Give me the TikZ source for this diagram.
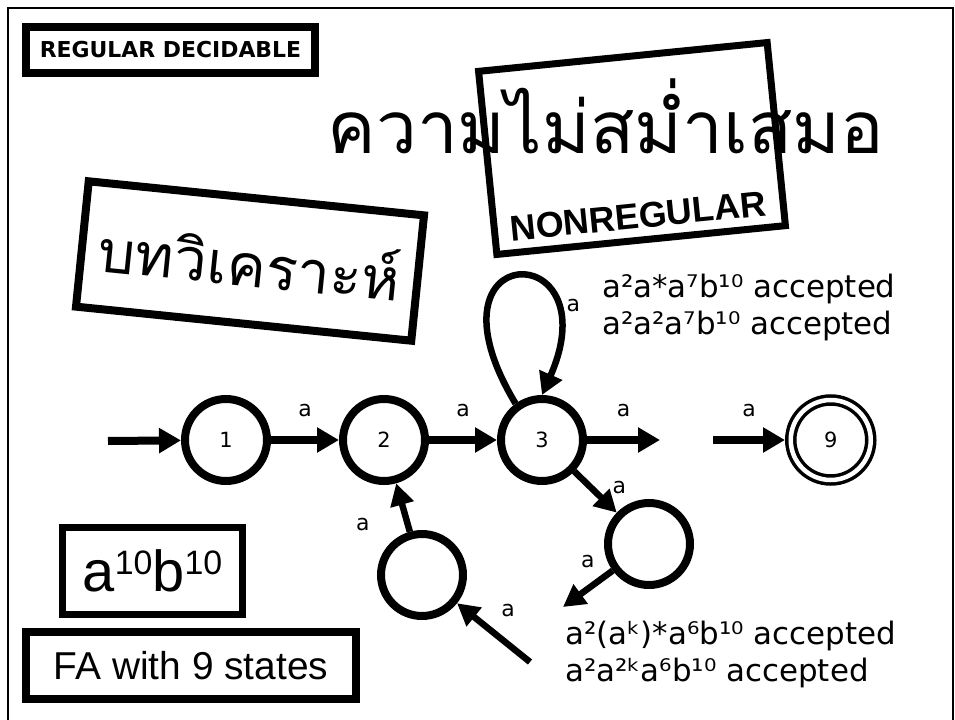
\documentclass[tikz,border=0pt]{standalone}
\usepackage{fontspec}
\setmainfont{DejaVu Sans}
\newfontfamily\thaifont[Script=Thai]{Loma}
\newfontfamily\arialfont{Liberation Sans}
\usetikzlibrary{positioning,arrows.meta}
\newcommand{\supnum}[1]{\raisebox{17bp}{\fontsize{34}{36}\selectfont #1}}
\tikzset{
  state/.style={circle, draw, line width=8bp, minimum size=82bp, inner sep=0pt,
    font=\fontsize{21}{24}\selectfont},
  accstate/.style={circle, draw, line width=3.5bp, double, double distance=4.5bp,
    minimum size=80bp, inner sep=0pt, outer sep=5.75bp, font=\fontsize{21}{24}\selectfont},
  labelbox/.style={rectangle, draw, line width=8bp, inner sep=0pt, align=center},
  lbl/.style={inner sep=0pt, font=\fontsize{22}{24}\selectfont},
  acctext/.style={inner sep=0pt, align=left, font=\fontsize{31}{37}\selectfont},
  arr/.style={-{Triangle[length=22bp,width=24bp]}, line width=8bp},
  sarr/.style={-{Triangle[length=22bp,width=23bp]}, line width=6.5bp},
}
\begin{document}
\begin{tikzpicture}[x=1bp, y=-1bp]
  \useasboundingbox (0,0) rectangle (955,720);
  % frame
  \draw[line width=2bp] (8,722) -- (8,8) -- (953,8) -- (953,722);

  % titles
  \node[labelbox, minimum width=289bp, minimum height=46bp,
    font=\bfseries\fontsize{22}{24}\selectfont] (regbox) at (170.5,50) {REGULAR DECIDABLE};
  \node[inner sep=0pt, anchor=base, font=\thaifont\fontsize{73}{80}\selectfont]
    (title) at (606,154) {ความไม่สม่ำเสมอ};
  \node[labelbox, line width=7bp, rotate=5.7, minimum width=290bp, minimum height=184bp]
    (nrbox) at (632,148.5) {};
  \node[inner sep=0pt, rotate=5.7, font=\arialfont\bfseries\fontsize{36}{40}\selectfont]
    (nrlbl) at (638,216) {NONREGULAR};
  \node[labelbox, rotate=-5.8, minimum width=337bp, minimum height=126bp,
    font=\thaifont\fontsize{59}{66}\selectfont] (anbox) at (250,261) {บทวิเคราะห์};

  % states
  \node[state] (s1) at (226,440) {1};
  \node[state, right=68bp of s1] (s2) {2};
  \node[state, right=68bp of s2] (s3) {3};
  \node[accstate, right=198bp of s3] (s9) {9};
  \node[state] (s4) at (649,544) {};
  \node[state] (s5) at (422,575) {};

  \coordinate (start) at (108,441);
  \coordinate (gap1) at (660,440);
  \coordinate (gap2) at (713,440);
  \coordinate (gap3) at (563,607);
  \coordinate (gap4) at (530,662);

  \draw[arr] (start) -- (s1);
  \draw[arr] (s1) -- node[lbl, above=19bp]{a} (s2);
  \draw[arr] (s2) -- node[lbl, above=19bp]{a} (s3);
  \draw[arr] (s3) -- node[lbl, above=19bp]{a} (gap1);
  \draw[arr] (gap2) -- node[lbl, above=19bp]{a} (s9);
  \draw[arr, line width=6.5bp] (s3.126) .. controls (415,236) and (612,236) .. (s3.north)
    node[lbl, pos=0.75, right=10bp]{a};
  \draw[sarr] (s3) -- node[lbl, pos=0.4, right=18bp]{a} (s4);
  \draw[sarr] (s4) -- node[lbl, above=18bp]{a} (gap3);
  \draw[sarr] (gap4) -- node[lbl, pos=0.3, above=24bp]{a} (s5);
  \draw[sarr] (s5) -- node[lbl, pos=0.15, left=35bp]{a} (s2);

  % texts
  \node[acctext, anchor=north west] (acc1) at (602,274)
    {a²a*a⁷b¹⁰ accepted\\a²a²a⁷b¹⁰ accepted};
  \node[acctext, anchor=north west] (acc2) at (565,621)
    {a²(aᵏ)*a⁶b¹⁰ accepted\\a²a²ᵏa⁶b¹⁰ accepted};

  % boxes bottom left
  \node[labelbox, line width=7bp, minimum width=180bp, minimum height=87bp,
    font=\arialfont\fontsize{58}{60}\selectfont] (langbox) at (152.5,571)
    {a\supnum{10}b\supnum{10}};
  \node[labelbox, minimum width=330bp, minimum height=67bp,
    font=\arialfont\fontsize{39}{42}\selectfont] (fabox) at (191,665.5) {FA with 9 states};
\end{tikzpicture}
\end{document}
